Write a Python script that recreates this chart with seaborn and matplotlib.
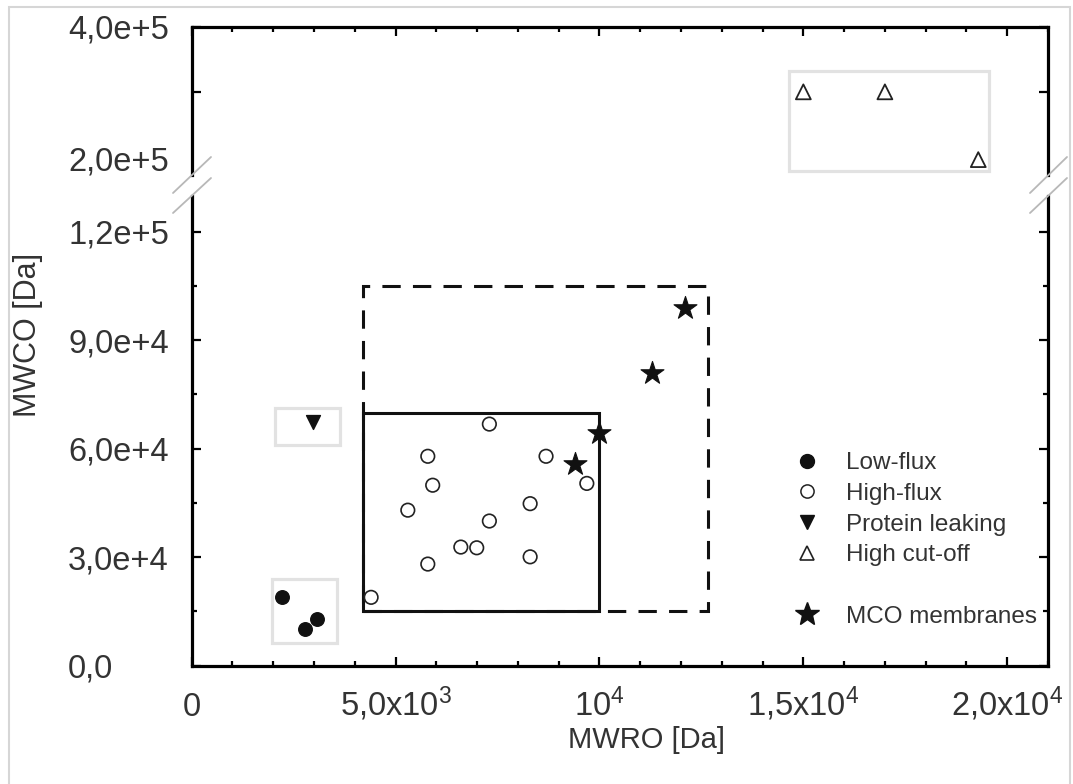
import matplotlib
matplotlib.use("Agg")
import matplotlib.pyplot as plt
import seaborn as sns
import numpy as np
import pandas as pd
from matplotlib.lines import Line2D
from matplotlib.patches import Rectangle
from matplotlib.ticker import MultipleLocator, FixedLocator

# ---------------- data ----------------
low_flux_x = [2210, 2780, 3070]
low_flux_y = [18900, 10100, 12900]

high_flux_x = [7300, 5790, 8690, 5910, 9690, 5300, 8300, 7300, 6600, 6990, 8300, 5790, 4400]
high_flux_y = [66800, 57900, 57900, 49900, 50400, 43000, 44800, 40000, 32800, 32600, 30100, 28100, 18900]

protein_x = [2970]
protein_y = [67500]

cutoff_x = [15000, 17000, 19290]
cutoff_y = [301000, 301000, 198000]

mco_x = [12110, 11300, 9990, 9400]
mco_y = [98800, 80800, 64200, 55900]

series_labels = ["Low-flux", "High-flux", "Protein leaking", "High cut-off", "MCO membranes"]

# group frames: (x0, x1, y0, y1)
box_low = (1970, 3560, 6200, 23900)
box_protein = (2040, 3640, 61000, 71200)
box_cutoff = (14650, 19560, 181000, 333000)
box_solid = (4200, 10000, 15000, 70000)
box_dashed = (4200, 12650, 15000, 105000)

x_ticks = [0, 5000, 10000, 15000, 20000]
x_ticklabels = [r"$\mathregular{0}$", r"$\mathregular{5{,}0x10^{3}}$", r"$\mathregular{10^{4}}$",
                r"$\mathregular{1{,}5x10^{4}}$", r"$\mathregular{2{,}0x10^{4}}$"]
y_ticks_low = [0, 30000, 60000, 90000, 120000]
y_ticklabels_low = ["0,0", "3,0e+4", "6,0e+4", "9,0e+4", "1,2e+5"]
y_ticks_up = [200000, 300000, 400000]
y_ticklabels_up = ["2,0e+5", "", "4,0e+5"]

x_label = "MWRO [Da]"
y_label = "MWCO [Da]"

# ---------------- style ----------------
sns.set_theme(style="white")
plt.rcParams["font.family"] = ["Liberation Sans", "DejaVu Sans"]
plt.rcParams["mathtext.fontset"] = "custom"
plt.rcParams["mathtext.rm"] = "Liberation Sans"
TXT = "#333333"
INK = "#111111"
FRAME = "#e2e2e2"

W, H = 1073, 784
fig = plt.figure(figsize=(W / 100, H / 100), dpi=100)
fig.patch.set_facecolor("white")

L, R = 191.7, 1048.0
lo_bot, lo_top = 665.7, 195.5
up_bot, up_top = 174.75, 26.7

ax_lo = fig.add_axes([L / W, 1 - lo_bot / H, (R - L) / W, (lo_bot - lo_top) / H])
ax_up = fig.add_axes([L / W, 1 - up_bot / H, (R - L) / W, (up_bot - up_top) / H])

for ax in (ax_lo, ax_up):
    ax.set_xlim(0, 21000)
    ax.set_facecolor("white")
    for s in ax.spines.values():
        s.set_linewidth(2.3)
        s.set_color("black")
    ax.xaxis.set_major_locator(FixedLocator(x_ticks))
    ax.xaxis.set_minor_locator(MultipleLocator(1000))
    ax.tick_params(which="major", direction="in", length=6.5, width=1.6, color="black",
                   labelsize=23.5, labelcolor=TXT)
    ax.tick_params(which="minor", direction="in", length=3.8, width=1.6, color="black")

ax_lo.set_ylim(0, 130000)
ax_up.set_ylim(175000, 400000)
ax_lo.spines["top"].set_visible(False)
ax_up.spines["bottom"].set_visible(False)

ax_lo.set_yticks(y_ticks_low)
ax_lo.set_yticklabels(y_ticklabels_low)
ax_lo.yaxis.set_minor_locator(FixedLocator([15000, 45000, 75000, 105000]))
ax_lo.set_xticks(x_ticks)
ax_lo.set_xticklabels(x_ticklabels)
ax_lo.tick_params(axis="x", which="both", bottom=True, top=False, labelbottom=True, pad=36)
ax_lo.tick_params(axis="y", which="both", left=True, right=True, pad=89)

ax_up.set_yticks(y_ticks_up)
ax_up.set_yticklabels(y_ticklabels_up)
ax_up.tick_params(axis="x", which="both", bottom=False, top=True, labelbottom=False, labeltop=False)
ax_up.tick_params(axis="y", which="both", left=True, right=True, pad=89)
for t in (ax_up.yaxis.get_major_ticks()[0],):
    t.tick1line.set_visible(False)
    t.tick2line.set_visible(False)

plt.setp(ax_lo.get_xticklabels(), va="baseline")
plt.setp(ax_lo.get_yticklabels(), ha="left")
plt.setp(ax_up.get_yticklabels(), ha="left")

# ---------------- frames ----------------
def frame(ax, b, **kw):
    ax.add_patch(Rectangle((b[0], b[2]), b[1] - b[0], b[3] - b[2], fill=False, **kw))

frame(ax_lo, box_low, edgecolor=FRAME, lw=2.3, zorder=1)
frame(ax_lo, box_protein, edgecolor=FRAME, lw=2.3, zorder=1)
frame(ax_up, box_cutoff, edgecolor=FRAME, lw=2.3, zorder=1)
frame(ax_lo, box_dashed, edgecolor=INK, lw=2.2, ls=(0, (6, 4)), zorder=2)
frame(ax_lo, box_solid, edgecolor=INK, lw=2.2, zorder=2)

# ---------------- points ----------------
sns.scatterplot(x=low_flux_x, y=low_flux_y, ax=ax_lo, marker="o", s=95, color=INK,
                edgecolor=INK, linewidth=1, legend=False, zorder=4)
sns.scatterplot(x=high_flux_x, y=high_flux_y, ax=ax_lo, marker="o", s=95, color=INK,
                facecolor="none", edgecolor="#222222", linewidth=1.2, legend=False, zorder=4)
sns.scatterplot(x=protein_x, y=protein_y, ax=ax_lo, marker="v", s=100, color=INK,
                edgecolor=INK, linewidth=1, legend=False, zorder=4)
sns.scatterplot(x=mco_x, y=mco_y, ax=ax_lo, marker="*", s=300, color=INK,
                edgecolor=INK, linewidth=0.8, legend=False, zorder=5)
sns.scatterplot(x=cutoff_x, y=cutoff_y, ax=ax_up, marker="^", s=115, color=INK,
                facecolor="none", edgecolor="#222222", linewidth=1.3, legend=False, zorder=4)

# ---------------- axis break marks ----------------
for xs in ((173, 211), (1030, 1067)):
    for (y1, y2) in ((193, 157), (213, 178)):
        fig.add_artist(Line2D([xs[0] / W, xs[1] / W], [1 - y1 / H, 1 - y2 / H],
                              transform=fig.transFigure, color="#b8b8b8", lw=1.3))

# ---------------- labels ----------------
fig.text(646 / W, 1 - 740 / H, x_label, ha="center", va="center", fontsize=21, color=TXT)
fig.text(28 / W, 1 - 335 / H, y_label, ha="center", va="center", rotation=90, fontsize=22, color=TXT)

# ---------------- legend ----------------
handles = [
    Line2D([], [], ls="none", marker="o", markersize=10, color=INK, label=series_labels[0]),
    Line2D([], [], ls="none", marker="o", markersize=9.5, markerfacecolor="none",
           markeredgecolor="#222222", markeredgewidth=1.1, label=series_labels[1]),
    Line2D([], [], ls="none", marker="v", markersize=10.5, color=INK, label=series_labels[2]),
    Line2D([], [], ls="none", marker="^", markersize=9.5, markerfacecolor="none",
           markeredgecolor="#222222", markeredgewidth=1.2, label=series_labels[3]),
    Line2D([], [], ls="none", label=" "),
    Line2D([], [], ls="none", marker="*", markersize=18, color=INK, label=series_labels[4]),
]
leg = ax_lo.legend(handles=handles, loc="upper left", bbox_to_anchor=(796 / W, 1 - 452 / H),
                   bbox_transform=fig.transFigure, frameon=False, fontsize=17.5,
                   handlelength=0.9, handletextpad=1.15, labelspacing=0.36,
                   borderpad=0, borderaxespad=0, labelcolor=TXT)

# ---------------- outer border ----------------
fig.add_artist(Rectangle((9 / W, -0.05), (1070 - 9) / W, 1 - 7 / H + 0.05,
                         transform=fig.transFigure, fill=False, edgecolor="#d6d6d6", lw=1.5))

fig.savefig("out.png", dpi=100, facecolor="white")
